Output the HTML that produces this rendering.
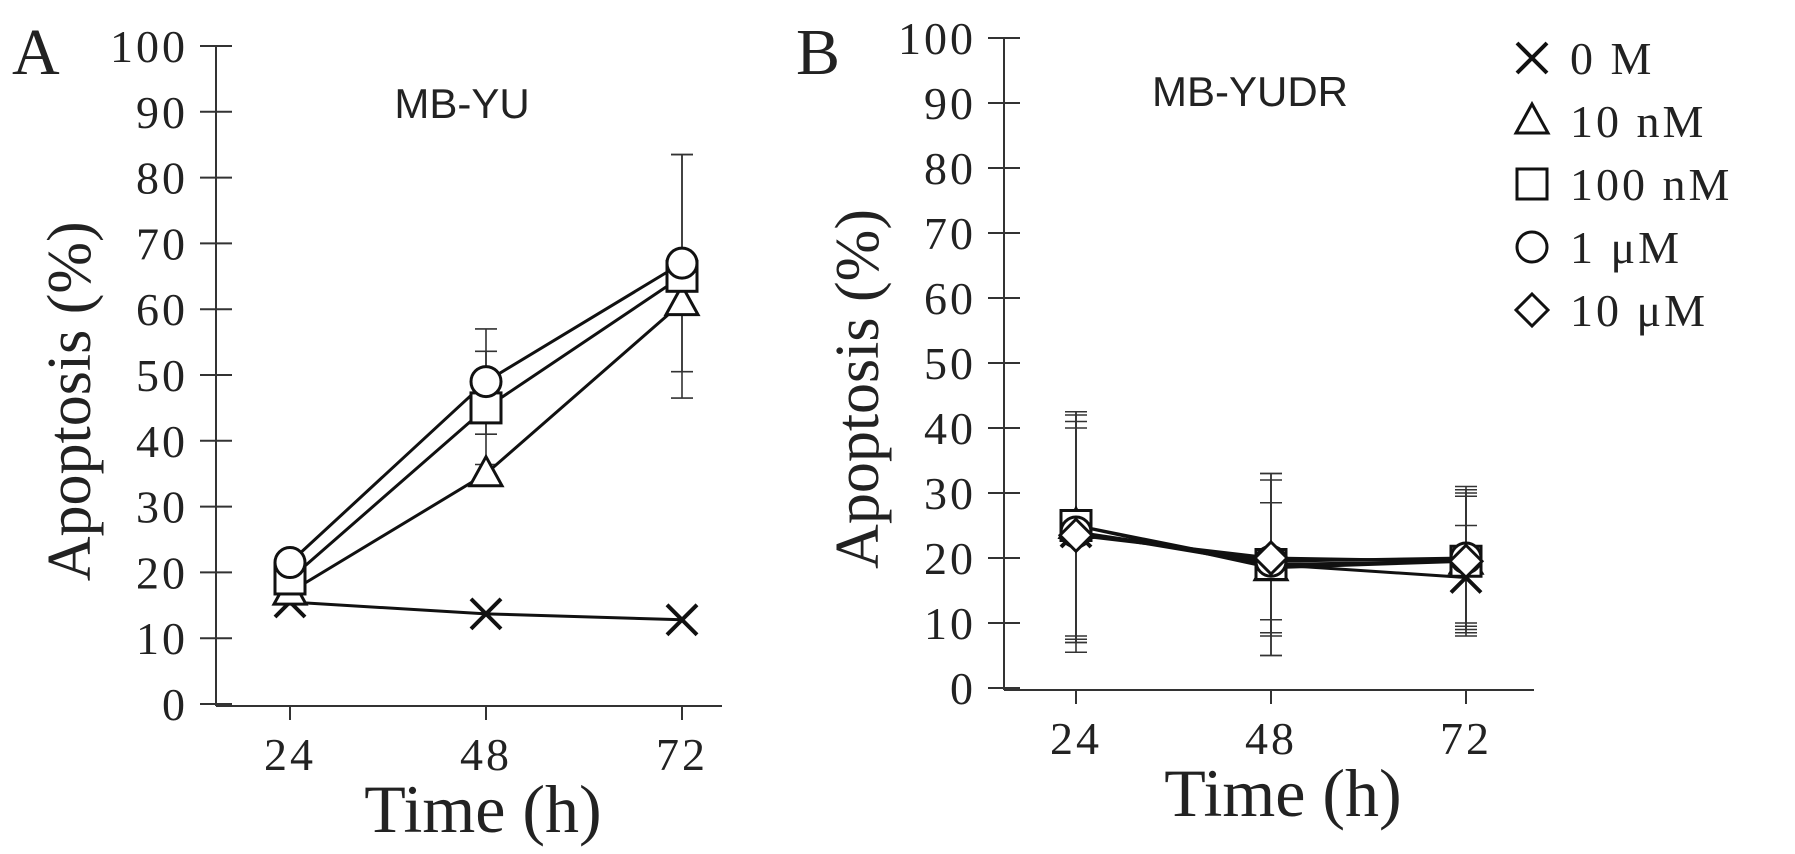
<!DOCTYPE html>
<html><head><meta charset="utf-8"><style>
body{margin:0;background:#fff;}
svg{display:block;}
text{font-family:"Liberation Serif",serif;fill:#222;}
.sans{font-family:"Liberation Sans",sans-serif;}
</style></head><body>
<svg id="chart" width="1795" height="854" viewBox="0 0 1795 854" xmlns="http://www.w3.org/2000/svg"></svg>
<script>
const times = [24, 48, 72];
const yTicks = [0,10,20,30,40,50,60,70,80,90,100];
const seriesNames = ["0 M","10 nM","100 nM","1 μM","10 μM"];
const seriesMarkers = ["x","tri","sq","circ","dia"];
// Panel A (MB-YU)
const aX = [15.5, 13.7, 12.8];
const aTri = [17, 35, 61];
const aSq = [19, 45, 65];
const aCirc = [21.5, 49, 67];
const aXErr = [0, 0, 0];
const aTriErr = [0, 0, 0];
const aSqErr = [0, 8.6, 18.5];
const aCircErr = [0, 8, 16.5];
// Panel B (MB-YUDR)
const bX = [24, 19, 17];
const bTri = [25, 18.5, 19.5];
const bSq = [25, 19, 19.5];
const bCirc = [24, 19.5, 20];
const bDia = [23.5, 20, 19.5];
const bXErr = [18.5, 14, 8];
const bTriErr = [17, 10, 11];
const bSqErr = [17.5, 14, 11.5];
const bCircErr = [17, 9, 10];
const bDiaErr = [16.5, 12, 10];

const NS="http://www.w3.org/2000/svg";
const svg=document.getElementById('chart');
function mk(tag,attrs,parent){const e=document.createElementNS(NS,tag);for(const k in attrs)e.setAttribute(k,attrs[k]);(parent||svg).appendChild(e);return e;}

function marker(g,type,cx,cy){
  let e;
  if(type==='x'){
    e=mk('path',{d:`M${cx-15},${cy-15}L${cx+15},${cy+15}M${cx+15},${cy-15}L${cx-15},${cy+15}`,stroke:'#111','stroke-width':4,fill:'none'},g);
  }else if(type==='tri'){
    e=mk('path',{d:`M${cx},${cy-17}L${cx+16},${cy+12}L${cx-16},${cy+12}Z`,stroke:'#111','stroke-width':3,fill:'#fff'},g);
  }else if(type==='sq'){
    e=mk('rect',{x:cx-15,y:cy-15,width:30,height:30,stroke:'#111','stroke-width':3,fill:'#fff'},g);
  }else if(type==='circ'){
    e=mk('circle',{cx:cx,cy:cy,r:15,stroke:'#111','stroke-width':3,fill:'#fff'},g);
  }else{
    e=mk('path',{d:`M${cx},${cy-16}L${cx+16},${cy}L${cx},${cy+16}L${cx-16},${cy}Z`,stroke:'#111','stroke-width':3,fill:'#fff'},g);
  }
  return e;
}

function panel(cfg){
  const g=mk('g',{});
  
  
  const y=v=>cfg.y0-(v/100)*(cfg.y0-cfg.y100);
  const x=t=>cfg.x24+(t-24)/24*cfg.dx;
  const ya=mk('line',{x1:cfg.ax,y1:y(100),x2:cfg.ax,y2:y(0)+2,stroke:'#333','stroke-width':2},g);
  
  const xa=mk('line',{x1:cfg.ax,y1:y(0)+2,x2:cfg.xEnd,y2:y(0)+2,stroke:'#333','stroke-width':2},g);
  
  yTicks.forEach(v=>{
    const t=mk('line',{x1:cfg.ax-16,y1:y(v),x2:cfg.ax+16,y2:y(v),stroke:'#333','stroke-width':2},g);
    
    const l=mk('text',{x:cfg.ax-28,y:y(v)+16,'text-anchor':'end','font-size':46,'letter-spacing':3},g);
    l.textContent=v;
    
  });
  times.forEach(tm=>{
    const t=mk('line',{x1:x(tm),y1:y(0)+2,x2:x(tm),y2:y(0)+16,stroke:'#333','stroke-width':2},g);
    
    const l=mk('text',{x:x(tm),y:y(0)+66,'text-anchor':'middle','font-size':46,'letter-spacing':3},g);
    l.textContent=tm;
    
  });
  const yt=mk('text',{x:0,y:0,'text-anchor':'middle','font-size':62,transform:`translate(${cfg.ax-126},${y(46)}) rotate(-90)`},g);
  yt.textContent='Apoptosis (%)';
  
  const xt=mk('text',{x:(cfg.ax+cfg.xEnd)/2+14,y:y(0)+128,'text-anchor':'middle','font-size':68},g);
  xt.textContent='Time (h)';
  
  const pl=mk('text',{x:cfg.letterX,y:74,'font-size':66},g);
  pl.textContent=cfg.letter;
  
  const ti=mk('text',{x:cfg.titleX,y:cfg.titleY,'text-anchor':'middle','font-size':42,'class':'sans'},g);
  ti.textContent=cfg.title;
  
  cfg.series.forEach(s=>{
    s.vals.forEach((v,i)=>{
      const e=s.err[i]; if(!e) return;
      const cx=x(times[i]);
      const eb=mk('path',{d:`M${cx},${y(v-e)}L${cx},${y(v+e)}M${cx-11},${y(v+e)}L${cx+11},${y(v+e)}M${cx-11},${y(v-e)}L${cx+11},${y(v-e)}`,stroke:'#333','stroke-width':1.6,fill:'none'},g);
      
    });
  });
  cfg.series.forEach(s=>{
    const ln=mk('polyline',{points:s.vals.map((v,i)=>x(times[i])+','+y(v)).join(' '),stroke:'#111','stroke-width':3,fill:'none'},g);
    
  });
  cfg.series.forEach(s=>{
    s.vals.forEach((v,i)=>{
      const m=marker(g,s.m,x(times[i]),y(v));
      
      
    });
  });
}

panel({name:'panel-a',letter:'A',letterX:12,title:'MB-YU',titleX:462,titleY:118,
  ax:216,xEnd:722,y0:704,y100:46,x24:290,dx:196,
  series:[{m:'x',vals:aX,err:aXErr},{m:'tri',vals:aTri,err:aTriErr},{m:'sq',vals:aSq,err:aSqErr},{m:'circ',vals:aCirc,err:aCircErr}]});
panel({name:'panel-b',letter:'B',letterX:796,title:'MB-YUDR',titleX:1250,titleY:106,
  ax:1004,xEnd:1534,y0:688,y100:38,x24:1076,dx:195,
  series:[{m:'x',vals:bX,err:bXErr},{m:'tri',vals:bTri,err:bTriErr},{m:'sq',vals:bSq,err:bSqErr},{m:'circ',vals:bCirc,err:bCircErr},{m:'dia',vals:bDia,err:bDiaErr}]});

const lg=mk('g',{});


seriesNames.forEach((n,i)=>{
  const cy=58+i*63;
  const m=marker(lg,seriesMarkers[i],1532,cy);
  
  
  const t=mk('text',{x:1570,y:cy+16,'font-size':46,'letter-spacing':3},lg);
  t.textContent=n;
  
  
});
</script>
</body></html>
